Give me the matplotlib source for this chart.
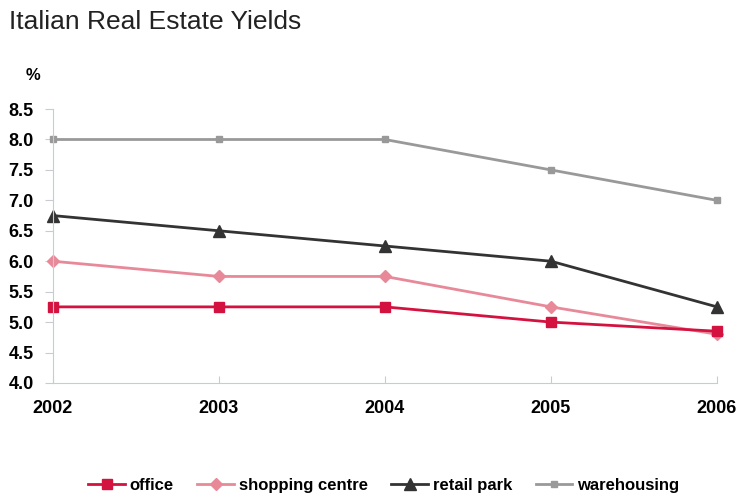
import matplotlib
matplotlib.use('Agg')
import matplotlib.pyplot as plt

plt.rcParams['font.family'] = ['Liberation Sans', 'DejaVu Sans']

years = [2002, 2003, 2004, 2005, 2006]
office = [5.25, 5.25, 5.25, 5.0, 4.85]
shopping = [6.0, 5.75, 5.75, 5.25, 4.8]
retail = [6.75, 6.5, 6.25, 6.0, 5.25]
warehousing = [8.0, 8.0, 8.0, 7.5, 7.0]

fig = plt.figure(figsize=(7.38, 4.98), dpi=100)
ax = fig.add_axes([0.0718, 0.231, 0.8997, 0.550])

ax.plot(years, warehousing, color='#999999', marker='s', markersize=5, linewidth=2, label='warehousing', clip_on=False)
ax.plot(years, retail, color='#333333', marker='^', markersize=8, linewidth=2, label='retail park', clip_on=False)
ax.plot(years, shopping, color='#e8899a', marker='D', markersize=6, linewidth=2, label='shopping centre', clip_on=False)
ax.plot(years, office, color='#d4123f', marker='s', markersize=7, linewidth=2, label='office', clip_on=False)

ax.set_xlim(2002, 2006)
ax.set_ylim(4.0, 8.5)
ax.set_xticks(years)
ax.set_yticks([4.0, 4.5, 5.0, 5.5, 6.0, 6.5, 7.0, 7.5, 8.0, 8.5])
ax.set_yticklabels([f'{v:.1f}' for v in ax.get_yticks()])
for s in ['top', 'right']:
    ax.spines[s].set_visible(False)
for s in ['left', 'bottom']:
    ax.spines[s].set_color('#c8ccd2')
ax.tick_params(axis='y', colors='#c8ccd2', labelcolor='black', length=6, labelsize=13, pad=8)
ax.tick_params(axis='x', colors='#c8ccd2', labelcolor='black', direction='in', length=5, labelsize=13, pad=12)
for lbl in ax.get_xticklabels() + ax.get_yticklabels():
    lbl.set_fontweight('bold')

fig.text(0.012, 0.955, 'Italian Real Estate Yields', fontsize=19, color='#222222', va='center')
fig.text(0.035, 0.848, '%', fontsize=12, fontweight='bold', va='center')

h, l = ax.get_legend_handles_labels()
fig.legend(h[::-1], l[::-1], loc='center', bbox_to_anchor=(0.52, 0.025), ncol=4, frameon=False,
           prop={'size': 12, 'weight': 'bold'}, handlelength=2.2, columnspacing=1.4, handletextpad=0.3)

fig.savefig('out.png', dpi=100)
